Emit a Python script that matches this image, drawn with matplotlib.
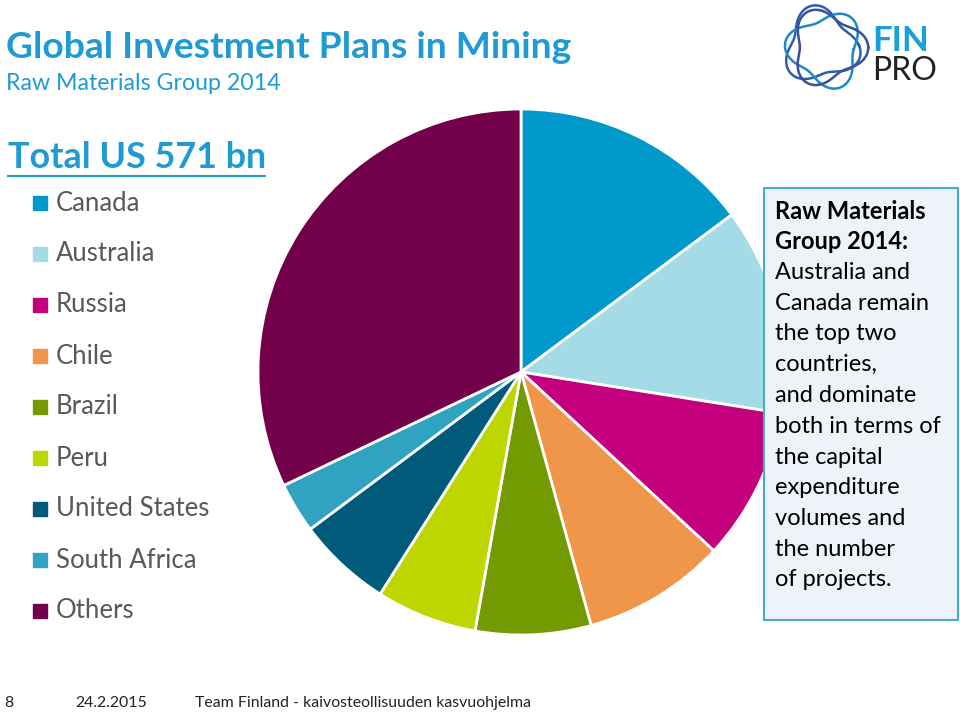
import numpy as np
import matplotlib
matplotlib.use("Agg")
import matplotlib.pyplot as plt
from matplotlib.patches import Rectangle

# ---- data ----
countries = ["Canada", "Australia", "Russia", "Chile", "Brazil", "Peru",
             "United States", "South Africa", "Others"]
shares = [14.8, 12.7, 9.4, 8.8, 7.1, 6.2, 5.8, 3.1, 32.1]
colors = ["#0099CC", "#A5DAE7", "#C5007F", "#F0964A", "#739A00", "#BDD600",
          "#005B7B", "#2FA3BF", "#72004B"]
title = "Global Investment Plans in Mining"
subtitle = "Raw Materials Group 2014"
total_label = "Total US 571 bn"
box_bold = ["Raw Materials", "Group 2014:"]
box_lines = ["Australia and", "Canada remain", "the top two", "countries,",
             "and dominate", "both in terms of", "the capital", "expenditure",
             "volumes and", "the number", "of projects."]
footer = ["8", "24.2.2015", "Team Finland - kaivosteollisuuden kasvuohjelma"]

W, H = 960, 713
plt.rcParams['font.family'] = ['Lato', 'DejaVu Sans']
fig = plt.figure(figsize=(W / 100, H / 100), dpi=100)

def fx(x):
    return x / W

def fy(y):
    return 1 - y / H

BLUE = "#1F9AD3"
GRAY = "#595959"

# ---- pie ----
cx, cy, r = 521, 372, 263
ax = fig.add_axes([fx(cx - r), fy(cy + r), 2 * r / W, 2 * r / H])
ax.pie(shares, colors=colors, startangle=90, counterclock=False,
       wedgeprops=dict(edgecolor="white", linewidth=2))
ax.set_xlim(-1, 1)
ax.set_ylim(-1, 1)
ax.set_aspect("equal")
ax.axis("off")

# ---- titles ----
fig.text(fx(6), fy(47), title, fontsize=26.8, fontweight="bold", color=BLUE,
         va="center", ha="left")
fig.text(fx(6), fy(83), subtitle, fontsize=16.7, color=BLUE, va="center", ha="left")
fig.text(fx(8), fy(157), total_label, fontsize=25.8, fontweight="bold", color=BLUE,
         va="center", ha="left")
fig.add_artist(plt.Line2D([fx(8), fx(265)], [fy(176), fy(176)], color=BLUE, lw=1.5))

# ---- legend ----
for i, (c, col) in enumerate(zip(countries, colors)):
    y = 203 + i * 51
    fig.add_artist(Rectangle((fx(33), fy(y + 7)), 14 / W, 14 / H, color=col,
                             transform=fig.transFigure))
    fig.text(fx(56), fy(y), c, fontsize=18.5, color=GRAY, va="center", ha="left")

# ---- text box ----
fig.add_artist(Rectangle((fx(764), fy(620)), (958 - 764) / W, (620 - 188) / H,
                         facecolor="#EEF3FA", edgecolor="#4BACC6", lw=1.5,
                         transform=fig.transFigure, zorder=5))
all_lines = box_bold + box_lines
for i, line in enumerate(all_lines):
    fig.text(fx(775), fy(211 + i * 30.75), line, fontsize=17,
             fontweight="bold" if i < len(box_bold) else "normal",
             color="black", va="center", ha="left", zorder=6)

# ---- footer ----
fig.text(fx(4), fy(703), footer[0], fontsize=11.4, color="#222222", va="center")
fig.text(fx(75), fy(703), footer[1], fontsize=11.4, color="#222222", va="center")
fig.text(fx(195), fy(703), footer[2], fontsize=11.4, color="#222222", va="center")

# ---- logo ----
lax = fig.add_axes([fx(778), fy(95), 95 / W, 95 / H])
lax.set_xlim(0, 1)
lax.set_ylim(0, 1)
lax.axis("off")
th = np.linspace(0, 2 * np.pi, 200)
for k, (sx, sy, rot, col) in enumerate([(0.45, 0.52, 0.3, "#2C5FA8"),
                                         (0.5, 0.48, 1.2, "#1E88C8"),
                                         (0.52, 0.5, 2.1, "#3A4FA0")]):
    rr = 0.36 + 0.07 * np.cos(3 * (th + rot))
    lax.plot(sx + rr * np.cos(th), sy + rr * np.sin(th), color=col, lw=1.8)
fig.text(fx(872), fy(41), "FIN", fontsize=25, fontweight="bold", color="#1AA0D8",
         va="center", ha="left")
fig.text(fx(872), fy(71), "PRO", fontsize=23, color="#222222", va="center", ha="left")

fig.savefig("out.png", dpi=100)
